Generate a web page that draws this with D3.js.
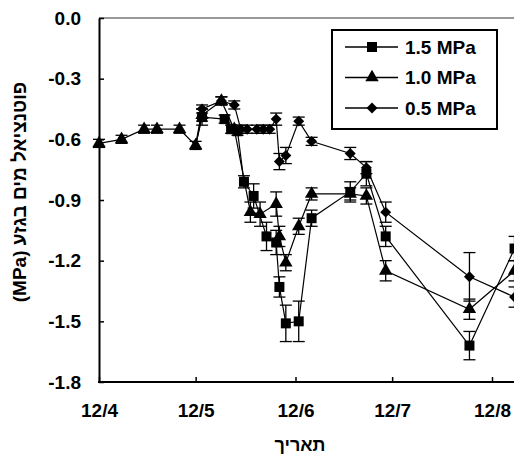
<!DOCTYPE html>
<html lang="he">
<head>
    <meta charset="UTF-8">
    <title>Stem water potential chart with d3</title>
    <script src="https://d3js.org/d3.v7.min.js" charset="utf-8"></script>
    <style>
        body { margin: 0; background: white; }
        svg { display: block; font-family: 'Liberation Sans', Arial, sans-serif; font-weight: bold; }
    </style>
</head>
<body>
<script>
// readings before the treatments split (drawn as triangles only)
var baseDates  = ['2007-04-12', '2007-04-19', '2007-04-26', '2007-04-30', '2007-05-07', '2007-05-12'];
var baseValues = [-0.62, -0.60, -0.55, -0.55, -0.55, -0.63];
var baseErr    = [0.02, 0.02, 0.02, 0.02, 0.02, 0.02];

// 1.5 MPa
var sqDates  = ['2007-05-14', '2007-05-21', '2007-05-23', '2007-05-25', '2007-05-27', '2007-05-30', '2007-06-03', '2007-06-06', '2007-06-07', '2007-06-09', '2007-06-13', '2007-06-17', '2007-06-29', '2007-07-04', '2007-07-10', '2007-08-05', '2007-08-19'];
var sqValues = [-0.49, -0.50, -0.55, -0.56, -0.81, -0.88, -1.08, -1.11, -1.33, -1.51, -1.50, -0.99, -0.86, -0.77, -1.08, -1.62, -1.14];
var sqErr    = [0.04, 0.02, 0.02, 0.02, 0.03, 0.06, 0.07, 0.06, 0.05, 0.09, 0.10, 0.04, 0.05, 0.06, 0.05, 0.07, 0.06];

// 1.0 MPa
var trDates  = ['2007-05-14', '2007-05-20', '2007-05-24', '2007-05-29', '2007-06-01', '2007-06-06', '2007-06-07', '2007-06-09', '2007-06-13', '2007-06-17', '2007-06-29', '2007-07-04', '2007-07-10', '2007-08-05', '2007-08-19'];
var trValues = [-0.48, -0.41, -0.55, -0.96, -0.97, -0.92, -1.08, -1.21, -1.03, -0.87, -0.87, -0.88, -1.25, -1.44, -1.25];
var trErr    = [0.03, 0.02, 0.02, 0.05, 0.06, 0.06, 0.05, 0.04, 0.04, 0.03, 0.03, 0.04, 0.05, 0.05, 0.05];

// 0.5 MPa
var dmDates  = ['2007-05-14', '2007-05-20', '2007-05-24', '2007-05-26', '2007-05-28', '2007-05-31', '2007-06-02', '2007-06-04', '2007-06-06', '2007-06-07', '2007-06-09', '2007-06-13', '2007-06-17', '2007-06-29', '2007-07-04', '2007-07-10', '2007-08-05', '2007-08-19'];
var dmValues = [-0.45, -0.41, -0.43, -0.55, -0.55, -0.55, -0.55, -0.55, -0.50, -0.71, -0.68, -0.51, -0.61, -0.67, -0.74, -0.96, -1.28, -1.38];
var dmErr    = [0.02, 0.02, 0.02, 0.02, 0.02, 0.02, 0.02, 0.02, 0.03, 0.04, 0.04, 0.02, 0.02, 0.03, 0.03, 0.05, 0.12, 0.05];

var seriesNames = ['1.5 MPa', '1.0 MPa', '0.5 MPa'];
var xTickDates = ['2007-04-12', '2007-05-12', '2007-06-12', '2007-07-12', '2007-08-12'];
var yTicks = [0, -0.3, -0.6, -0.9, -1.2, -1.5, -1.8];

var svgwidth = 514, svgheight = 455;
var plotLeft = 99, plotTop = 18, plotBottom = 382;

var parse = d3.timeParse('%Y-%m-%d');

function rows(dates, values, errs) {
    return dates.map(function(d, i) { return {date: parse(d), v: values[i], e: errs[i]}; });
}

var base = rows(baseDates, baseValues, baseErr);
var lastBase = base[base.length - 1];
var series = [
    {name: seriesNames[0], symbol: 'square', pts: rows(sqDates, sqValues, sqErr)},
    {name: seriesNames[1], symbol: 'triangle', pts: rows(trDates, trValues, trErr)},
    {name: seriesNames[2], symbol: 'diamond', pts: rows(dmDates, dmValues, dmErr)}
];

var svg = d3.select('body').append('svg')
    .attr('width', svgwidth)
    .attr('height', svgheight);

// scales
var x = d3.scaleTime()
    .domain([parse(xTickDates[0]), parse(xTickDates[4])])
    .range([plotLeft, 492]);

var y = d3.scaleLinear()
    .domain([-1.8, 0])
    .range([plotBottom, plotTop]);

// marker shapes
function symbolPath(kind) {
    if (kind === 'square') return d3.symbol().type(d3.symbolSquare).size(100)();
    if (kind === 'triangle') return d3.symbol().type(d3.symbolTriangle).size(78)();
    return d3.symbol().type(d3.symbolSquare).size(60)();
}
function symbolRotate(kind) { return kind === 'diamond' ? ' rotate(45)' : ''; }

// top frame line
svg.append('line')
    .attr('x1', plotLeft).attr('x2', svgwidth)
    .attr('y1', plotTop).attr('y2', plotTop)
    .attr('stroke', '#777')
    .attr('stroke-width', 1.5);

// y axis
var yAxis = d3.axisLeft(y)
    .tickValues(yTicks)
    .tickFormat(function(d) { return d.toFixed(1); })
    .tickSizeInner(-5)
    .tickSizeOuter(0)
    .tickPadding(18);

var gy = svg.append('g')
    .attr('transform', 'translate(' + plotLeft + ',0)')
    .call(yAxis);
gy.select('.domain').attr('stroke-width', 2);
gy.selectAll('.tick line').attr('stroke-width', 1.5);
gy.selectAll('text').style('font-size', '19px').style('font-weight', 'bold').attr('fill', 'black');

// x axis
var xAxis = d3.axisBottom(x)
    .tickValues(xTickDates.map(parse))
    .tickFormat(d3.timeFormat('%-d/%-m'))
    .tickSizeInner(-5)
    .tickSizeOuter(0)
    .tickPadding(22);

var gx = svg.append('g')
    .attr('transform', 'translate(0,' + plotBottom + ')')
    .call(xAxis);
gx.select('.domain').remove();
gx.append('line')
    .attr('x1', plotLeft - 1).attr('x2', svgwidth)
    .attr('stroke', 'black')
    .attr('stroke-width', 2);
gx.selectAll('.tick line').attr('stroke-width', 1.5);
gx.selectAll('text').style('font-size', '19px').style('font-weight', 'bold').attr('fill', 'black');

var line = d3.line()
    .x(function(d) { return x(d.date); })
    .y(function(d) { return y(d.v); });

var plot = svg.append('g');

function drawPoints(pts, kind) {
    var g = plot.append('g');
    // error bars
    pts.forEach(function(d) {
        var cx = x(d.date);
        g.append('line')
            .attr('x1', cx).attr('x2', cx)
            .attr('y1', y(d.v - d.e)).attr('y2', y(d.v + d.e))
            .attr('stroke', 'black').attr('stroke-width', 1.3);
        [d.v - d.e, d.v + d.e].forEach(function(v) {
            g.append('line')
                .attr('x1', cx - 6).attr('x2', cx + 6)
                .attr('y1', y(v)).attr('y2', y(v))
                .attr('stroke', 'black').attr('stroke-width', 1.3);
        });
    });
    g.selectAll('path.mark')
        .data(pts)
        .enter()
        .append('path')
        .attr('class', 'mark')
        .attr('d', symbolPath(kind))
        .attr('transform', function(d) { return 'translate(' + x(d.date) + ',' + y(d.v) + ')' + symbolRotate(kind); })
        .attr('fill', 'black');
}

// treatment series, each line starts from the last shared reading
series.forEach(function(s) {
    plot.append('path')
        .attr('d', line([lastBase].concat(s.pts)))
        .attr('fill', 'none')
        .attr('stroke', 'black')
        .attr('stroke-width', 1.2);
});
plot.append('path')
    .attr('d', line(base))
    .attr('fill', 'none')
    .attr('stroke', 'black')
    .attr('stroke-width', 1.2);

series.forEach(function(s) { drawPoints(s.pts, s.symbol); });
drawPoints(base, 'triangle');

// legend
var legend = svg.append('g');
legend.append('rect')
    .attr('x', 332).attr('y', 30)
    .attr('width', 165).attr('height', 99)
    .attr('fill', 'white')
    .attr('stroke', 'black')
    .attr('stroke-width', 2);

series.forEach(function(s, i) {
    var ly = 47 + i * 30.5;
    legend.append('line')
        .attr('x1', 345).attr('x2', 398)
        .attr('y1', ly).attr('y2', ly)
        .attr('stroke', 'black').attr('stroke-width', 1.5);
    legend.append('path')
        .attr('d', symbolPath(s.symbol))
        .attr('transform', 'translate(372,' + ly + ')' + symbolRotate(s.symbol))
        .attr('fill', 'black');
    legend.append('text')
        .attr('x', 405)
        .attr('y', ly)
        .attr('dy', '0.36em')
        .style('font-size', '19px')
        .text(s.name);
});

// axis titles
svg.append('text')
    .attr('transform', 'translate(26,192) rotate(-90)')
    .attr('text-anchor', 'middle')
    .attr('direction', 'rtl')
    .style('font-size', '19px')
    .text('פוטנציאל מים בגזע (MPa)');

svg.append('text')
    .attr('x', 300)
    .attr('y', 451)
    .attr('text-anchor', 'middle')
    .style('font-size', '18px')
    .text('תאריך');
</script>
</body>
</html>
